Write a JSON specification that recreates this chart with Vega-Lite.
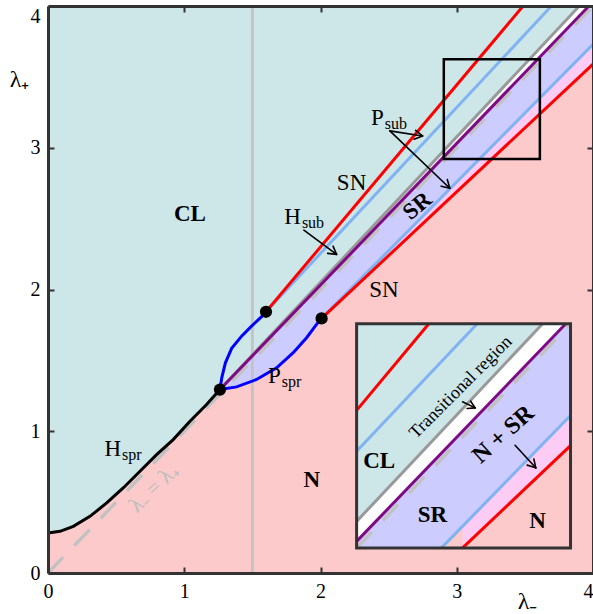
{
  "$schema": "https://vega.github.io/schema/vega-lite/v6.json",
  "width": 545,
  "height": 567,
  "autosize": {"type": "none"},
  "padding": {"left": 48, "top": 6, "right": 0, "bottom": 41},
  "background": "white",
  "config": {
    "view": {"fill": "#fccaca", "stroke": null},
    "axis": {"disable": true},
    "text": {"font": "Liberation Serif", "color": "black"}
  },
  "datasets": {
    "areas": [
      {"g": "i_pink", "x": 2.265, "y": 0.177, "top": 1.758},
      {"g": "i_pink", "x": 3.835, "y": 0.177, "top": 1.758},
      {"g": "mag", "x": 2.008, "y": 1.796, "top": 4},
      {"g": "mag", "x": 4.0, "y": 3.59, "top": 4},
      {"g": "i_mag", "x": 3.043, "y": 0.177, "top": 1.758},
      {"g": "i_mag", "x": 3.835, "y": 0.899, "top": 1.758},
      {"g": "lav", "x": 1.262, "y": 1.294, "top": 4},
      {"g": "lav", "x": 1.384, "y": 1.313, "top": 4},
      {"g": "lav", "x": 1.531, "y": 1.365, "top": 4},
      {"g": "lav", "x": 1.678, "y": 1.448, "top": 4},
      {"g": "lav", "x": 1.8, "y": 1.554, "top": 4},
      {"g": "lav", "x": 1.898, "y": 1.66, "top": 4},
      {"g": "lav", "x": 1.971, "y": 1.754, "top": 4},
      {"g": "lav", "x": 2.008, "y": 1.796, "top": 4},
      {"g": "lav", "x": 4.0, "y": 3.73, "top": 4},
      {"g": "i_lav", "x": 2.265, "y": 0.177, "top": 1.758},
      {"g": "i_lav", "x": 2.888, "y": 0.177, "top": 1.758},
      {"g": "i_lav", "x": 3.835, "y": 1.111, "top": 1.758},
      {"g": "white", "x": 1.262, "y": 1.294, "top": 4},
      {"g": "white", "x": 3.97, "y": 4.0, "top": 4},
      {"g": "white", "x": 4.0, "y": 4.0, "top": 4},
      {"g": "i_white", "x": 2.265, "y": 0.223, "top": 1.758},
      {"g": "i_white", "x": 3.8, "y": 1.758, "top": 1.758},
      {"g": "i_white", "x": 3.835, "y": 1.758, "top": 1.758},
      {"g": "teal", "x": 0.0, "y": 0.282, "top": 4},
      {"g": "teal", "x": 0.088, "y": 0.294, "top": 4},
      {"g": "teal", "x": 0.186, "y": 0.329, "top": 4},
      {"g": "teal", "x": 0.308, "y": 0.4, "top": 4},
      {"g": "teal", "x": 0.431, "y": 0.494, "top": 4},
      {"g": "teal", "x": 0.552, "y": 0.6, "top": 4},
      {"g": "teal", "x": 0.675, "y": 0.718, "top": 4},
      {"g": "teal", "x": 0.797, "y": 0.835, "top": 4},
      {"g": "teal", "x": 0.919, "y": 0.941, "top": 4},
      {"g": "teal", "x": 1.042, "y": 1.071, "top": 4},
      {"g": "teal", "x": 1.164, "y": 1.189, "top": 4},
      {"g": "teal", "x": 1.262, "y": 1.294, "top": 4},
      {"g": "teal", "x": 3.9, "y": 4.0, "top": 4},
      {"g": "i_teal", "x": 2.265, "y": 0.364, "top": 1.758},
      {"g": "i_teal", "x": 3.63, "y": 1.758, "top": 1.758}
    ],
    "curves": [
      {"id": "diag", "x": 0, "y": 0},
      {"id": "diag", "x": 4, "y": 4},
      {"id": "i_diag", "x": 2.265, "y": 0.177},
      {"id": "i_diag", "x": 3.835, "y": 1.758},
      {"id": "cut", "x": 1.5, "y": 0},
      {"id": "cut", "x": 1.5, "y": 4},
      {"id": "Hspr", "x": 0.0, "y": 0.282},
      {"id": "Hspr", "x": 0.088, "y": 0.294},
      {"id": "Hspr", "x": 0.186, "y": 0.329},
      {"id": "Hspr", "x": 0.308, "y": 0.4},
      {"id": "Hspr", "x": 0.431, "y": 0.494},
      {"id": "Hspr", "x": 0.552, "y": 0.6},
      {"id": "Hspr", "x": 0.675, "y": 0.718},
      {"id": "Hspr", "x": 0.797, "y": 0.835},
      {"id": "Hspr", "x": 0.919, "y": 0.941},
      {"id": "Hspr", "x": 1.042, "y": 1.071},
      {"id": "Hspr", "x": 1.164, "y": 1.189},
      {"id": "Hspr", "x": 1.262, "y": 1.294},
      {"id": "Pspr_up", "x": 1.262, "y": 1.294},
      {"id": "Pspr_up", "x": 1.276, "y": 1.38},
      {"id": "Pspr_up", "x": 1.302, "y": 1.483},
      {"id": "Pspr_up", "x": 1.348, "y": 1.585},
      {"id": "Pspr_up", "x": 1.421, "y": 1.671},
      {"id": "Pspr_up", "x": 1.494, "y": 1.742},
      {"id": "Pspr_up", "x": 1.568, "y": 1.808},
      {"id": "Pspr_up", "x": 1.6, "y": 1.843},
      {"id": "Pspr_lo", "x": 1.262, "y": 1.294},
      {"id": "Pspr_lo", "x": 1.384, "y": 1.313},
      {"id": "Pspr_lo", "x": 1.531, "y": 1.365},
      {"id": "Pspr_lo", "x": 1.678, "y": 1.448},
      {"id": "Pspr_lo", "x": 1.8, "y": 1.554},
      {"id": "Pspr_lo", "x": 1.898, "y": 1.66},
      {"id": "Pspr_lo", "x": 1.971, "y": 1.754},
      {"id": "Pspr_lo", "x": 2.008, "y": 1.796},
      {"id": "Psub_up", "x": 1.6, "y": 1.843},
      {"id": "Psub_up", "x": 3.695, "y": 4.0},
      {"id": "SN_up", "x": 1.6, "y": 1.843},
      {"id": "SN_up", "x": 3.487, "y": 4.0},
      {"id": "Hsub", "x": 1.262, "y": 1.294},
      {"id": "Hsub", "x": 3.9, "y": 4.0},
      {"id": "SRedge", "x": 1.262, "y": 1.294},
      {"id": "SRedge", "x": 3.97, "y": 4.0},
      {"id": "Psub_lo", "x": 2.008, "y": 1.796},
      {"id": "Psub_lo", "x": 4.0, "y": 3.73},
      {"id": "SN_lo", "x": 2.008, "y": 1.796},
      {"id": "SN_lo", "x": 4.0, "y": 3.59},
      {"id": "i_SN_up", "x": 2.265, "y": 1.147},
      {"id": "i_SN_up", "x": 2.795, "y": 1.758},
      {"id": "i_Psub_up", "x": 2.265, "y": 0.859},
      {"id": "i_Psub_up", "x": 3.15, "y": 1.758},
      {"id": "i_Hsub", "x": 2.265, "y": 0.364},
      {"id": "i_Hsub", "x": 3.63, "y": 1.758},
      {"id": "i_SRedge", "x": 2.265, "y": 0.223},
      {"id": "i_SRedge", "x": 3.8, "y": 1.758},
      {"id": "i_Psub_lo", "x": 2.888, "y": 0.177},
      {"id": "i_Psub_lo", "x": 3.835, "y": 1.111},
      {"id": "i_SN_lo", "x": 3.043, "y": 0.177},
      {"id": "i_SN_lo", "x": 3.835, "y": 0.899}
    ],
    "dots": [
      {"x": 1.262, "y": 1.294},
      {"x": 1.6, "y": 1.843},
      {"x": 2.008, "y": 1.796}
    ],
    "boxes": [
      {"b": "zoom", "x": 2.905, "x2": 3.61, "y": 2.92, "y2": 3.625},
      {"b": "inset", "x": 2.265, "x2": 3.835, "y": 0.177, "y2": 1.758}
    ],
    "arrows": [
      {"x": 1.878, "y": 2.419, "x2": 2.118, "y2": 2.248},
      {"x": 2.092, "y": 2.306, "x2": 2.118, "y2": 2.248},
      {"x": 2.052, "y": 2.255, "x2": 2.118, "y2": 2.248},
      {"x": 2.509, "y": 3.119, "x2": 2.749, "y2": 3.083},
      {"x": 2.698, "y": 3.123, "x2": 2.749, "y2": 3.083},
      {"x": 2.687, "y": 3.06, "x2": 2.749, "y2": 3.083},
      {"x": 2.509, "y": 3.119, "x2": 2.949, "y2": 2.714},
      {"x": 2.931, "y": 2.775, "x2": 2.949, "y2": 2.714},
      {"x": 2.886, "y": 2.729, "x2": 2.949, "y2": 2.714},
      {"x": 3.043, "y": 1.208, "x2": 3.135, "y2": 1.165},
      {"x": 3.102, "y": 1.212, "x2": 3.135, "y2": 1.165},
      {"x": 3.076, "y": 1.161, "x2": 3.135, "y2": 1.165},
      {"x": 3.428, "y": 0.901, "x2": 3.58, "y2": 0.742},
      {"x": 3.566, "y": 0.804, "x2": 3.58, "y2": 0.742},
      {"x": 3.517, "y": 0.761, "x2": 3.58, "y2": 0.742}
    ],
    "labels": [
      {"t": "CL", "k": "bold", "x": 1.042, "y": 2.53},
      {"t": "N", "k": "bold", "x": 1.937, "y": 0.659},
      {"t": "CL", "k": "bold", "x": 2.431, "y": 0.793},
      {"t": "SR", "k": "bold", "x": 2.822, "y": 0.412},
      {"t": "N", "k": "bold", "x": 3.593, "y": 0.364},
      {"t": "SN", "k": "normal", "x": 2.228, "y": 2.754},
      {"t": "SN", "k": "normal", "x": 2.465, "y": 2.0},
      {"t": "SR", "k": "srrot", "x": 2.711, "y": 2.589},
      {"t": "N + SR", "k": "nsr", "x": 3.342, "y": 0.977},
      {"t": "Transitional region", "k": "trans", "x": 3.03, "y": 1.309},
      {"t": "λ₋ = λ₊", "k": "diag", "x": 0.775, "y": 0.6}
    ],
    "sublabels": [
      {"m": "H", "s": "sub", "x": 1.856, "y": 2.46},
      {"m": "P", "s": "sub", "x": 2.465, "y": 3.159},
      {"m": "H", "s": "spr", "x": 0.536, "y": 0.828},
      {"m": "P", "s": "spr", "x": 1.709, "y": 1.342}
    ]
  },
  "encoding": {
    "x": {"field": "x", "type": "quantitative", "scale": {"domain": [0, 4], "nice": false, "zero": false}},
    "y": {"field": "y", "type": "quantitative", "scale": {"domain": [0, 4], "nice": false, "zero": false}}
  },
  "resolve": {"axis": {"x": "independent", "y": "independent"}},
  "layer": [
    {
      "data": {"name": "areas"},
      "transform": [{"filter": "datum.g === 'i_pink'"}],
      "mark": {"type": "area", "color": "#fccaca", "opacity": 1},
      "encoding": {
        "x": {"field": "x", "type": "quantitative", "axis": {"orient": "bottom", "values": [0, 1, 2, 3, 4], "format": "d", "title": "λ₋", "titleFont": "Liberation Serif", "titleFontSize": 24, "titleFontWeight": "normal", "titleColor": "black", "titleX": 479, "titleY": 28, "titleAlign": "center", "titleBaseline": "middle", "labelFont": "Liberation Serif", "labelFontSize": 20, "labelColor": "black", "labelPadding": 14, "labelFlush": false, "labelOverlap": false, "labelAlign": {"condition": {"test": "datum.value === 4", "value": "right"}, "value": "center"}, "tickSize": -6, "tickColor": "#333333", "tickWidth": 2, "domainColor": "#333333", "domainWidth": 3, "grid": false, "zindex": 1}},
        "y": {"field": "y", "type": "quantitative", "axis": {"orient": "left", "values": [0, 1, 2, 3, 4], "format": "d", "title": "λ₊", "titleAngle": 0, "titleFont": "Liberation Serif", "titleFontSize": 24, "titleFontWeight": "normal", "titleColor": "black", "titleX": -29, "titleY": 73, "titleAlign": "center", "titleBaseline": "middle", "labelFont": "Liberation Serif", "labelFontSize": 20, "labelColor": "black", "labelPadding": 14, "labelFlush": false, "labelOverlap": false, "labelBaseline": {"condition": {"test": "datum.value === 4", "value": "top"}, "value": "middle"}, "tickSize": -6, "tickColor": "#333333", "tickWidth": 2, "domainColor": "#333333", "domainWidth": 3, "grid": false, "zindex": 1}},
        "y2": {"field": "top"}
      }
    },
    {
      "data": {"name": "areas"},
      "transform": [{"filter": "datum.g === 'mag' || datum.g === 'i_mag'"}],
      "mark": {"type": "area", "color": "#fdccf4", "opacity": 1},
      "encoding": {
        "x": {"field": "x", "type": "quantitative", "axis": {"orient": "top", "values": [0, 1, 2, 3, 4], "labels": false, "title": null, "tickSize": -6, "tickColor": "#333333", "tickWidth": 2, "domainColor": "#333333", "domainWidth": 3, "grid": false, "zindex": 1}},
        "y": {"field": "y", "type": "quantitative", "axis": {"orient": "right", "values": [0, 1, 2, 3, 4], "labels": false, "title": null, "tickSize": -6, "tickColor": "#333333", "tickWidth": 2, "domainColor": "#333333", "domainWidth": 3, "grid": false, "zindex": 1}},
        "y2": {"field": "top"},
        "detail": {"field": "g"}
      }
    },
    {
      "data": {"name": "areas"},
      "transform": [{"filter": "datum.g === 'lav' || datum.g === 'i_lav'"}],
      "mark": {"type": "area", "color": "#ccccff", "opacity": 1},
      "encoding": {"y2": {"field": "top"}, "detail": {"field": "g"}}
    },
    {
      "data": {"name": "areas"},
      "transform": [{"filter": "datum.g === 'white' || datum.g === 'i_white'"}],
      "mark": {"type": "area", "color": "#ffffff", "opacity": 1},
      "encoding": {"y2": {"field": "top"}, "detail": {"field": "g"}}
    },
    {
      "data": {"name": "areas"},
      "transform": [{"filter": "datum.g === 'teal' || datum.g === 'i_teal'"}],
      "mark": {"type": "area", "color": "#cde6e8", "opacity": 1},
      "encoding": {"y2": {"field": "top"}, "detail": {"field": "g"}}
    },
    {
      "data": {"name": "curves"},
      "transform": [{"filter": "datum.id === 'diag' || datum.id === 'i_diag'"}],
      "mark": {"type": "line", "color": "#c2c2c2", "strokeWidth": 3.5, "strokeDash": [22, 16]},
      "encoding": {"detail": {"field": "id"}}
    },
    {
      "data": {"name": "curves"},
      "transform": [{"filter": "datum.id === 'cut'"}],
      "mark": {"type": "line", "color": "#c4c4c4", "strokeWidth": 3},
      "encoding": {"detail": {"field": "id"}}
    },
    {
      "data": {"name": "curves"},
      "transform": [{"filter": "datum.id === 'Hsub' || datum.id === 'i_Hsub'"}],
      "mark": {"type": "line", "color": "#999999", "strokeWidth": 3},
      "encoding": {"detail": {"field": "id"}}
    },
    {
      "data": {"name": "curves"},
      "transform": [{"filter": "datum.id === 'SRedge' || datum.id === 'i_SRedge'"}],
      "mark": {"type": "line", "color": "#7f0a86", "strokeWidth": 3},
      "encoding": {"detail": {"field": "id"}}
    },
    {
      "data": {"name": "curves"},
      "transform": [{"filter": "indexof(['Psub_up','Psub_lo','i_Psub_up','i_Psub_lo'], datum.id) >= 0"}],
      "mark": {"type": "line", "color": "#80b3f2", "strokeWidth": 3},
      "encoding": {"detail": {"field": "id"}}
    },
    {
      "data": {"name": "curves"},
      "transform": [{"filter": "indexof(['SN_up','SN_lo','i_SN_up','i_SN_lo'], datum.id) >= 0"}],
      "mark": {"type": "line", "color": "#ff0000", "strokeWidth": 3},
      "encoding": {"detail": {"field": "id"}}
    },
    {
      "data": {"name": "curves"},
      "transform": [{"filter": "datum.id === 'Hspr'"}],
      "mark": {"type": "line", "color": "#000000", "strokeWidth": 3},
      "encoding": {"detail": {"field": "id"}}
    },
    {
      "data": {"name": "curves"},
      "transform": [{"filter": "datum.id === 'Pspr_up' || datum.id === 'Pspr_lo'"}],
      "mark": {"type": "line", "color": "#0000ff", "strokeWidth": 3},
      "encoding": {"detail": {"field": "id"}}
    },
    {
      "data": {"name": "dots"},
      "mark": {"type": "point", "filled": true, "color": "black", "size": 150, "opacity": 1}
    },
    {
      "data": {"name": "boxes"},
      "transform": [{"filter": "datum.b === 'zoom'"}],
      "mark": {"type": "rect", "fill": null, "fillOpacity": 0, "stroke": "black", "strokeWidth": 2.5},
      "encoding": {"x2": {"field": "x2"}, "y2": {"field": "y2"}}
    },
    {
      "data": {"name": "boxes"},
      "transform": [{"filter": "datum.b === 'inset'"}],
      "mark": {"type": "rect", "fill": null, "fillOpacity": 0, "stroke": "#333333", "strokeWidth": 3},
      "encoding": {"x2": {"field": "x2"}, "y2": {"field": "y2"}}
    },
    {
      "data": {"name": "arrows"},
      "mark": {"type": "rule", "color": "black", "strokeWidth": 1.6, "strokeCap": "round"},
      "encoding": {"x2": {"field": "x2"}, "y2": {"field": "y2"}}
    },
    {
      "data": {"name": "labels"},
      "transform": [{"filter": "datum.k === 'bold'"}],
      "mark": {"type": "text", "fontSize": 23, "fontWeight": "bold", "align": "center", "baseline": "middle"},
      "encoding": {"text": {"field": "t"}}
    },
    {
      "data": {"name": "labels"},
      "transform": [{"filter": "datum.k === 'normal'"}],
      "mark": {"type": "text", "fontSize": 23, "align": "center", "baseline": "middle"},
      "encoding": {"text": {"field": "t"}}
    },
    {
      "data": {"name": "labels"},
      "transform": [{"filter": "datum.k === 'srrot'"}],
      "mark": {"type": "text", "fontSize": 23, "fontWeight": "bold", "align": "center", "baseline": "middle", "angle": 320},
      "encoding": {"text": {"field": "t"}}
    },
    {
      "data": {"name": "labels"},
      "transform": [{"filter": "datum.k === 'nsr'"}],
      "mark": {"type": "text", "fontSize": 24, "fontWeight": "bold", "align": "center", "baseline": "middle", "angle": 318},
      "encoding": {"text": {"field": "t"}}
    },
    {
      "data": {"name": "labels"},
      "transform": [{"filter": "datum.k === 'trans'"}],
      "mark": {"type": "text", "fontSize": 18, "align": "center", "baseline": "middle", "angle": 315},
      "encoding": {"text": {"field": "t"}}
    },
    {
      "data": {"name": "labels"},
      "transform": [{"filter": "datum.k === 'diag'"}],
      "mark": {"type": "text", "fontSize": 22, "align": "center", "baseline": "middle", "angle": 316, "color": "#bdbdbd"},
      "encoding": {"text": {"field": "t"}}
    },
    {
      "data": {"name": "sublabels"},
      "mark": {"type": "text", "fontSize": 23, "align": "right", "baseline": "alphabetic"},
      "encoding": {"text": {"field": "m"}}
    },
    {
      "data": {"name": "sublabels"},
      "mark": {"type": "text", "fontSize": 16, "align": "left", "baseline": "alphabetic", "dy": 4, "dx": 1},
      "encoding": {"text": {"field": "s"}}
    }
  ]
}
